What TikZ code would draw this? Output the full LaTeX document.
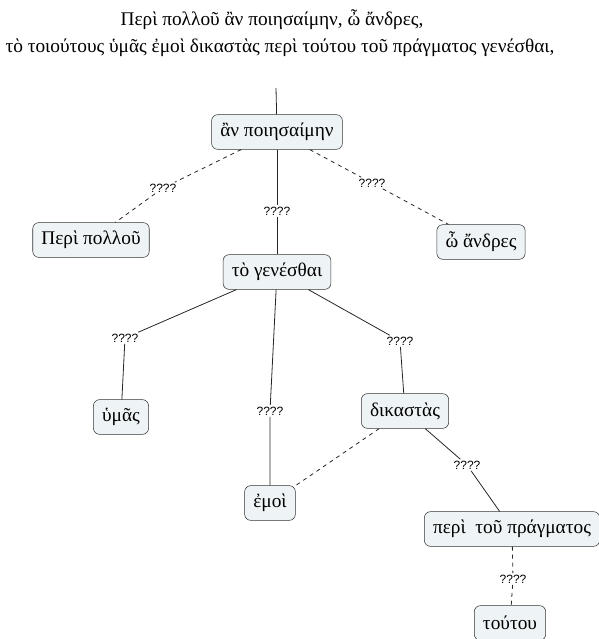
\documentclass[tikz,border=0pt]{standalone}
\usepackage{fontspec}
\setmainfont{Liberation Serif}
\newfontfamily\lblfont{Liberation Sans}
\usepackage{tikz}
\usetikzlibrary{positioning}
\usepackage{xcolor}
\definecolor{boxfill}{HTML}{EEF3F5}
\definecolor{boxline}{HTML}{333333}

\begin{document}
\begin{tikzpicture}[x=0.75pt,y=-0.75pt,
  concept/.style={draw=boxline,fill=boxfill,rounded corners=4.5pt,minimum height=26pt,inner xsep=6.5pt,font=\fontsize{14.5}{17}\selectfont},
  link/.style={fill=white,inner sep=1pt,font=\lblfont\fontsize{9}{10}\selectfont},
  rel/.style={draw=black!85,line width=0.6pt}]
\useasboundingbox (0,0) rectangle (599,639);
\node (t1) at (272,20) {\fontsize{14.5}{17}\selectfont Περὶ πολλοῦ ἂν ποιησαίμην, ὦ ἄνδρες,};
\node (t2) at (280,48) {\fontsize{14.5}{17}\selectfont τὸ τοιούτους ὑμᾶς ἐμοὶ δικαστὰς περὶ τούτου τοῦ πράγματος γενέσθαι,};
\coordinate (top) at (276,88);
\node[concept] (an) at (277,132) {ἂν ποιησαίμην};
\node[concept] (peri) at (91,240) {Περὶ πολλοῦ};
\node[concept] (andres) at (481,242) {ὦ ἄνδρες};
\node[concept] (gen) at (277,272) {τὸ γενέσθαι};
\node[concept] (hymas) at (121,417) {ὑμᾶς};
\node[concept] (dik) at (405,411) {δικαστὰς};
\node[concept] (emoi) at (270,503) {ἐμοὶ};
\node[concept] (prag) at (512,529) {περὶ~ τοῦ πράγματος};
\node[concept] (toutou) at (510,623) {τούτου};
\node[link] (q1) at (163,188) {????};
\node[link] (q2) at (277,211) {????};
\node[link] (q3) at (372,183) {????};
\node[link] (q4) at (125,338) {????};
\node[link] (q5) at (270,411) {????};
\node[link] (q6) at (400,341) {????};
\node[link] (q7) at (467,465) {????};
\node[link] (q8) at (513,579) {????};
\draw[rel] (top) -- (an);
\draw[rel,dashed] (an) -- (q1) -- (peri);
\draw[rel] (an) -- (q2) -- (gen);
\draw[rel,dashed] (an) -- (q3) -- (andres);
\draw[rel] (gen) -- (q4) -- (hymas);
\draw[rel] (gen) -- (q5) -- (emoi);
\draw[rel] (gen) -- (q6) -- (dik);
\draw[rel,dashed] (dik) -- (emoi);
\draw[rel] (dik) -- (q7) -- (prag);
\draw[rel,dashed] (prag) -- (q8) -- (toutou);
\end{tikzpicture}
\end{document}
